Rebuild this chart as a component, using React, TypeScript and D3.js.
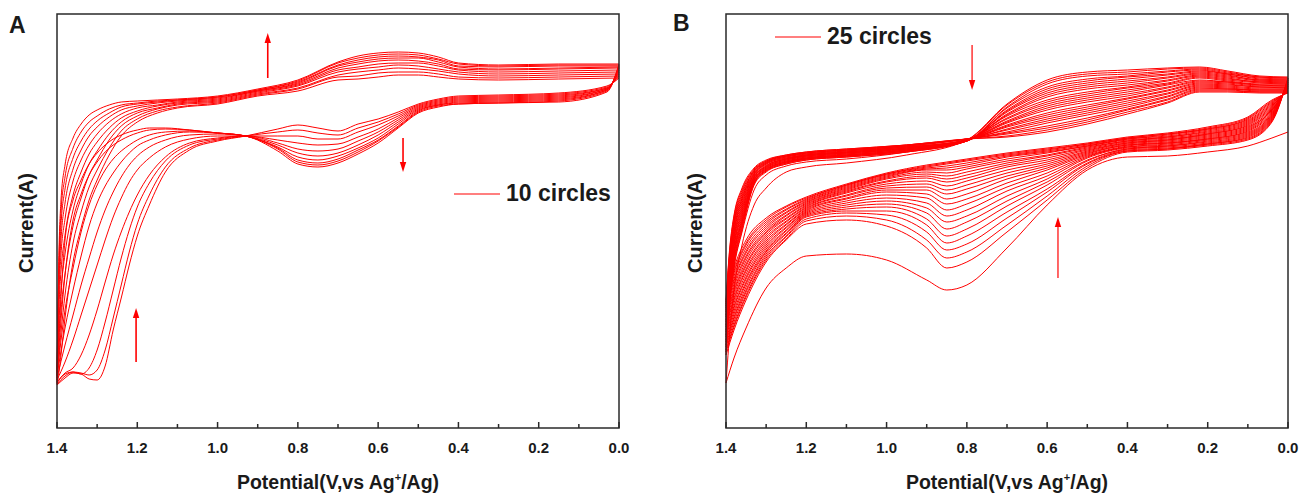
import React from "react";
import * as d3 from "d3";

// ---------- Panel A (10 cycles) ----------
// potentials (V vs Ag+/Ag) sampled along each branch
const A_UPPER_V = [1.4, 1.395, 1.39, 1.38, 1.36, 1.34, 1.32, 1.3, 1.27, 1.24, 1.2, 1.15, 1.1, 1.0, 0.9, 0.8, 0.7, 0.65, 0.6, 0.55, 0.5, 0.45, 0.4, 0.3, 0.15, 0.0];
// current (arbitrary units), one row per cycle
const A_UPPER_I = [
  [42, 55, 72, 109, 165, 199, 227, 247, 272, 291, 305, 314, 319, 323, 331, 336, 347, 348, 350, 352, 352, 350, 348, 347, 348, 349],
  [43, 73, 95, 132, 184, 215, 240, 257, 279, 296, 308, 316, 320, 324, 332, 338, 350, 351, 354, 355, 355, 353, 350, 349, 350, 351],
  [44, 90, 117, 153, 201, 229, 252, 267, 287, 301, 311, 318, 322, 325, 333, 339, 352, 355, 357, 359, 358, 356, 353, 351, 352, 353],
  [45, 106, 137, 173, 217, 243, 263, 276, 293, 305, 314, 319, 323, 326, 334, 341, 355, 358, 360, 362, 361, 358, 355, 353, 354, 355],
  [47, 121, 156, 192, 232, 255, 273, 285, 299, 309, 316, 321, 324, 327, 335, 342, 357, 360, 363, 364, 364, 361, 357, 355, 356, 357],
  [49, 134, 173, 208, 246, 267, 282, 293, 305, 313, 319, 322, 325, 328, 336, 343, 359, 363, 366, 367, 366, 363, 358, 357, 358, 359],
  [51, 147, 188, 224, 258, 277, 291, 300, 310, 317, 321, 324, 326, 329, 336, 344, 361, 365, 368, 369, 369, 365, 360, 358, 359, 360],
  [52, 157, 202, 238, 269, 286, 298, 306, 314, 320, 323, 325, 327, 330, 337, 345, 362, 367, 370, 371, 370, 367, 361, 360, 361, 361],
  [54, 167, 215, 250, 279, 295, 305, 311, 318, 322, 324, 326, 327, 330, 337, 346, 364, 369, 372, 373, 372, 368, 363, 361, 362, 362],
  [55, 177, 227, 262, 289, 303, 312, 317, 322, 325, 326, 327, 328, 331, 338, 347, 365, 371, 374, 375, 374, 370, 364, 362, 363, 363],
];
const A_LOWER_V = [1.4, 1.38, 1.36, 1.34, 1.32, 1.3, 1.28, 1.26, 1.24, 1.22, 1.2, 1.17, 1.13, 1.07, 1.0, 0.93, 0.85, 0.8, 0.75, 0.7, 0.65, 0.6, 0.55, 0.5, 0.45, 0.4, 0.3, 0.15, 0.03, 0.0];
const A_LOWER_I = [
  [42, 49, 54, 53, 48, 47, 61, 97, 129, 162, 191, 222, 255, 277, 286, 291, 298, 302, 299, 296, 303, 308, 315, 323, 328, 331, 332, 334, 341, 349],
  [43, 51, 55, 54, 52, 57, 77, 109, 142, 175, 203, 232, 260, 279, 287, 291, 295, 297, 294, 292, 299, 305, 313, 322, 327, 330, 331, 333, 340, 351],
  [44, 53, 55, 53, 59, 77, 105, 137, 169, 197, 220, 244, 266, 282, 288, 291, 291, 291, 288, 288, 295, 302, 311, 321, 326, 329, 330, 332, 339, 353],
  [45, 54, 59, 72, 92, 117, 145, 172, 195, 215, 232, 252, 270, 284, 289, 291, 287, 284, 282, 283, 290, 298, 309, 320, 325, 328, 329, 331, 339, 355],
  [47, 65, 87, 112, 137, 162, 187, 210, 229, 245, 257, 269, 280, 288, 291, 291, 284, 278, 276, 278, 286, 295, 307, 319, 324, 327, 328, 330, 338, 357],
  [49, 82, 112, 142, 169, 195, 217, 235, 250, 262, 271, 280, 287, 292, 293, 291, 282, 274, 271, 274, 282, 292, 305, 318, 323, 326, 327, 329, 338, 359],
  [51, 99, 137, 171, 201, 224, 241, 254, 265, 274, 281, 287, 292, 295, 294, 291, 280, 270, 267, 271, 279, 289, 303, 317, 322, 325, 326, 328, 337, 360],
  [52, 117, 159, 195, 222, 242, 257, 268, 276, 282, 287, 292, 295, 296, 294, 291, 279, 267, 264, 268, 277, 287, 301, 316, 322, 324, 325, 327, 337, 361],
  [54, 152, 207, 233, 252, 265, 275, 282, 287, 291, 294, 297, 298, 297, 294, 291, 278, 265, 262, 266, 275, 286, 300, 315, 321, 323, 324, 326, 336, 362],
  [55, 187, 227, 247, 263, 274, 282, 288, 292, 295, 297, 299, 299, 297, 294, 291, 276, 263, 260, 264, 273, 284, 299, 314, 320, 323, 324, 325, 335, 363],
];

// ---------- Panel B (25 cycles) ----------
const B_UPPER_V = [1.4, 1.39, 1.38, 1.36, 1.33, 1.3, 1.25, 1.2, 1.1, 0.95, 0.8, 0.7, 0.6, 0.5, 0.4, 0.3, 0.22, 0.15, 0.07, 0.0];
const B_UPPER_I = [
  [44, 97, 137, 182, 222, 239, 255, 260, 264, 272, 287, 323, 347, 355, 357, 359, 360, 356, 351, 350],
  [72, 127, 159, 195, 237, 252, 261, 265, 268, 275, 287, 322, 345, 353, 355, 358, 359, 355, 350, 349],
  [75, 129, 161, 197, 242, 255, 263, 267, 270, 275, 286, 320, 343, 351, 353, 356, 358, 354, 350, 349],
  [77, 132, 164, 199, 243, 256, 263, 267, 270, 275, 286, 319, 340, 348, 351, 355, 357, 353, 349, 348],
  [80, 134, 166, 201, 244, 256, 264, 268, 271, 276, 286, 317, 338, 346, 350, 353, 356, 353, 348, 347],
  [82, 137, 168, 203, 244, 257, 264, 268, 271, 276, 286, 316, 336, 344, 348, 352, 355, 352, 347, 347],
  [85, 139, 171, 205, 245, 257, 265, 268, 271, 276, 286, 315, 334, 342, 346, 350, 354, 351, 347, 346],
  [87, 141, 173, 206, 246, 258, 265, 269, 272, 277, 286, 313, 332, 340, 344, 349, 353, 350, 346, 345],
  [90, 144, 175, 208, 247, 258, 265, 269, 272, 277, 286, 312, 330, 338, 342, 347, 352, 349, 345, 345],
  [92, 146, 177, 210, 247, 259, 266, 269, 272, 277, 287, 311, 327, 335, 340, 346, 351, 348, 345, 344],
  [95, 148, 180, 212, 248, 259, 266, 270, 273, 278, 287, 309, 325, 333, 339, 344, 350, 347, 344, 343],
  [97, 151, 182, 214, 249, 260, 267, 270, 273, 278, 287, 308, 323, 331, 337, 343, 349, 346, 343, 343],
  [100, 153, 184, 216, 250, 260, 267, 271, 274, 278, 287, 306, 321, 329, 335, 342, 347, 345, 342, 342],
  [102, 156, 187, 218, 250, 261, 268, 271, 274, 279, 287, 305, 319, 327, 333, 340, 346, 345, 342, 341],
  [105, 158, 189, 220, 251, 261, 268, 271, 274, 279, 287, 304, 317, 325, 331, 339, 345, 344, 341, 341],
  [107, 160, 191, 222, 252, 262, 268, 272, 275, 279, 287, 302, 314, 322, 329, 337, 344, 343, 340, 340],
  [110, 163, 194, 224, 253, 263, 269, 272, 275, 280, 287, 301, 312, 320, 328, 336, 343, 342, 340, 339],
  [112, 165, 196, 226, 253, 263, 269, 272, 275, 280, 287, 300, 310, 318, 326, 334, 342, 341, 339, 339],
  [115, 168, 198, 228, 254, 264, 270, 273, 276, 280, 287, 298, 308, 316, 324, 333, 341, 340, 338, 338],
  [117, 170, 201, 229, 255, 264, 270, 273, 276, 281, 288, 297, 306, 314, 322, 331, 340, 339, 337, 337],
  [119, 172, 203, 231, 256, 265, 271, 274, 277, 281, 288, 295, 304, 312, 320, 330, 339, 338, 337, 337],
  [121, 175, 205, 233, 256, 265, 271, 274, 277, 281, 288, 294, 301, 309, 318, 328, 338, 338, 336, 336],
  [123, 177, 207, 235, 257, 266, 271, 274, 277, 282, 288, 293, 299, 307, 317, 327, 337, 337, 335, 335],
  [125, 180, 210, 237, 258, 266, 272, 275, 278, 282, 288, 291, 297, 305, 315, 325, 336, 336, 335, 335],
  [127, 182, 212, 239, 259, 267, 272, 275, 278, 282, 288, 290, 295, 303, 313, 324, 335, 335, 334, 334],
];
const B_LOWER_V = [1.4, 1.38, 1.35, 1.3, 1.25, 1.2, 1.1, 1.0, 0.9, 0.85, 0.8, 0.7, 0.6, 0.5, 0.4, 0.3, 0.2, 0.1, 0.04, 0.0];
const B_LOWER_I = [
  [44, 69, 99, 139, 159, 171, 173, 167, 147, 137, 142, 179, 222, 257, 270, 271, 275, 281, 289, 295],
  [72, 97, 127, 165, 187, 203, 207, 201, 179, 159, 165, 195, 227, 259, 275, 277, 281, 287, 305, 349],
  [75, 100, 130, 167, 188, 206, 211, 207, 187, 169, 175, 202, 231, 261, 276, 278, 282, 288, 306, 349],
  [77, 102, 132, 169, 190, 208, 214, 212, 195, 177, 183, 209, 235, 263, 276, 278, 283, 289, 307, 348],
  [80, 105, 135, 171, 191, 210, 216, 216, 202, 184, 191, 215, 238, 264, 277, 279, 283, 290, 308, 347],
  [82, 108, 137, 173, 193, 211, 218, 220, 208, 191, 198, 221, 242, 266, 278, 280, 284, 291, 309, 347],
  [85, 110, 140, 175, 194, 212, 220, 223, 214, 198, 205, 226, 245, 267, 278, 281, 285, 292, 310, 346],
  [87, 113, 143, 176, 196, 213, 222, 226, 219, 205, 211, 231, 248, 269, 279, 281, 286, 293, 311, 345],
  [90, 116, 145, 178, 197, 214, 224, 229, 224, 211, 217, 236, 251, 270, 280, 282, 287, 294, 312, 345],
  [92, 119, 148, 180, 199, 215, 226, 232, 229, 217, 223, 240, 254, 271, 280, 283, 288, 295, 313, 344],
  [95, 121, 150, 182, 200, 216, 228, 235, 233, 223, 228, 244, 257, 272, 281, 284, 288, 296, 314, 343],
  [97, 124, 153, 184, 202, 217, 229, 237, 237, 228, 233, 248, 259, 273, 282, 284, 289, 297, 315, 343],
  [100, 127, 156, 186, 203, 218, 231, 239, 240, 233, 238, 251, 261, 274, 282, 285, 290, 298, 316, 342],
  [102, 129, 158, 188, 205, 219, 232, 241, 243, 237, 242, 254, 263, 275, 283, 286, 291, 299, 317, 341],
  [105, 132, 161, 190, 206, 220, 234, 243, 246, 241, 246, 257, 265, 276, 284, 287, 292, 300, 317, 341],
  [107, 135, 163, 192, 208, 221, 235, 245, 249, 245, 249, 260, 267, 277, 284, 287, 293, 301, 318, 340],
  [110, 137, 166, 194, 209, 222, 236, 246, 251, 248, 252, 262, 269, 278, 285, 288, 293, 302, 319, 339],
  [112, 140, 169, 195, 211, 223, 237, 248, 253, 251, 255, 264, 271, 279, 286, 289, 294, 303, 320, 339],
  [115, 143, 171, 197, 212, 224, 238, 249, 255, 254, 258, 266, 272, 280, 286, 290, 295, 304, 321, 338],
  [117, 146, 174, 199, 214, 225, 239, 250, 257, 257, 260, 268, 274, 281, 287, 290, 296, 305, 322, 337],
  [119, 148, 176, 201, 215, 226, 240, 251, 258, 259, 262, 270, 275, 281, 288, 291, 297, 306, 323, 337],
  [121, 151, 179, 203, 217, 227, 241, 252, 259, 261, 264, 271, 276, 282, 288, 292, 298, 307, 324, 336],
  [123, 154, 182, 205, 218, 228, 242, 253, 260, 263, 266, 272, 277, 283, 289, 293, 298, 308, 325, 335],
  [125, 156, 184, 207, 220, 229, 242, 253, 261, 264, 267, 273, 278, 283, 289, 293, 299, 309, 326, 335],
  [127, 159, 187, 209, 221, 230, 243, 254, 262, 265, 268, 274, 279, 284, 290, 294, 300, 310, 327, 334],
];

// axis ticks
const MAJOR_TICKS = [1.4, 1.2, 1.0, 0.8, 0.6, 0.4, 0.2, 0.0];
const MINOR_TICKS = [1.3, 1.1, 0.9, 0.7, 0.5, 0.3, 0.1];

// annotation arrows: [potential, current at tail, current at tip]
const A_ARROWS: [number, number, number][] = [
  [0.875, 349, 394],
  [0.538, 289, 255],
  [1.203, 65, 119],
];
const B_ARROWS: [number, number, number][] = [
  [0.787, 382, 337],
  [0.573, 149, 210],
];

const A_LEGEND = "10 circles";
const B_LEGEND = "25 circles";

const FONT = "'Liberation Sans', Arial, Helvetica, sans-serif";
const RED = "#ff0000";
const INK = "#1a1a1a";
const TOP = 14;
const BOTTOM = 428;

const yScale = d3.scaleLinear().domain([-1, 414]).range([BOTTOM, TOP - 1]);

type PanelProps = {
  left: number;
  right: number;
  upperV: number[];
  upperI: number[][];
  lowerV: number[];
  lowerI: number[][];
  arrows: [number, number, number][];
  arrowWidth: number;
  label: string;
  labelX: number;
  labelY: number;
  legend: string;
  legendX: number;
  legendY: number;
};

function Arrow({ x, y1, y2, w }: { x: number; y1: number; y2: number; w: number }) {
  const dir = y2 < y1 ? -1 : 1; // -1 up
  const headLen = 10;
  const headHalf = 3.2;
  const base = y2 - dir * headLen;
  return (
    <g>
      <line x1={x} x2={x} y1={y1} y2={base} stroke={RED} strokeWidth={w} />
      <polygon points={`${x - headHalf},${base} ${x + headHalf},${base} ${x},${y2}`} fill={RED} />
    </g>
  );
}

function Panel(p: PanelProps) {
  const x = d3.scaleLinear().domain([1.4, 0]).range([p.left, p.right]);
  const line = d3
    .line<[number, number]>()
    .x((d) => x(d[0]))
    .y((d) => yScale(d[1]))
    .curve(d3.curveMonotoneX);
  const mid = (p.left + p.right) / 2;
  const midY = (TOP + BOTTOM) / 2 + 2;
  return (
    <g>
      <g>
        {p.upperI.map((row, k) => (
          <path
            key={"u" + k}
            d={line(row.map((c, i) => [p.upperV[i], c] as [number, number])) || ""}
            fill="none"
            stroke={RED}
            strokeWidth={1}
          />
        ))}
        {p.lowerI.map((row, k) => (
          <path
            key={"l" + k}
            d={line(row.map((c, i) => [p.lowerV[i], c] as [number, number])) || ""}
            fill="none"
            stroke={RED}
            strokeWidth={1}
          />
        ))}
      </g>
      {p.arrows.map(([v, a, b], i) => (
        <Arrow key={i} x={x(v)} y1={yScale(a)} y2={yScale(b)} w={p.arrowWidth} />
      ))}
      {/* legend */}
      <line x1={p.legendX} x2={p.legendX + 46} y1={p.legendY - 7} y2={p.legendY - 7} stroke={RED} strokeWidth={1.2} />
      <text x={p.legendX + 52} y={p.legendY} fontFamily={FONT} fontWeight="bold" fontSize={23} fill={INK}>
        {p.legend}
      </text>
      {/* frame */}
      <rect x={p.left} y={TOP} width={p.right - p.left} height={BOTTOM - TOP} fill="none" stroke="#2a2a2a" strokeWidth={1.5} />
      {MAJOR_TICKS.map((t) => (
        <g key={"M" + t}>
          <line x1={x(t)} x2={x(t)} y1={BOTTOM} y2={BOTTOM - 6} stroke="#2a2a2a" strokeWidth={1.5} />
          <text x={x(t)} y={453} textAnchor="middle" fontFamily={FONT} fontWeight="bold" fontSize={15} fill={INK}>
            {t.toFixed(1)}
          </text>
        </g>
      ))}
      {MINOR_TICKS.map((t) => (
        <line key={"m" + t} x1={x(t)} x2={x(t)} y1={BOTTOM} y2={BOTTOM - 4} stroke="#2a2a2a" strokeWidth={1.5} />
      ))}
      <text x={mid} y={489} textAnchor="middle" fontFamily={FONT} fontWeight="bold" fontSize={19.5} fill={INK}>
        Potential(V,vs Ag
        <tspan dy={-8} fontSize={11}>
          +
        </tspan>
        <tspan dy={8}>/Ag)</tspan>
      </text>
      <text
        transform={`translate(${p.left - 31},${midY}) rotate(-90)`}
        textAnchor="middle"
        dominantBaseline="central"
        fontFamily={FONT}
        fontWeight="bold"
        fontSize={20}
        fill={INK}
      >
        Current(A)
      </text>
      <text x={p.labelX} y={p.labelY} fontFamily={FONT} fontWeight="bold" fontSize={23} fill={INK}>
        {p.label}
      </text>
    </g>
  );
}

export default function App() {
  return (
    <svg
      width={1314}
      height={497}
      viewBox="0 0 1314 497"
      style={{ position: "absolute", left: 0, top: 0, background: "#fff" }}
    >
      <rect x={0} y={0} width={1314} height={497} fill="#fff" />
      <Panel
        left={57}
        right={619}
        upperV={A_UPPER_V}
        upperI={A_UPPER_I}
        lowerV={A_LOWER_V}
        lowerI={A_LOWER_I}
        arrows={A_ARROWS}
        arrowWidth={1.6}
        label="A"
        labelX={9}
        labelY={33}
        legend={A_LEGEND}
        legendX={454}
        legendY={201}
      />
      <Panel
        left={726}
        right={1288}
        upperV={B_UPPER_V}
        upperI={B_UPPER_I}
        lowerV={B_LOWER_V}
        lowerI={B_LOWER_I}
        arrows={B_ARROWS}
        arrowWidth={1.2}
        label="B"
        labelX={673}
        labelY={31}
        legend={B_LEGEND}
        legendX={775}
        legendY={44}
      />
    </svg>
  );
}
